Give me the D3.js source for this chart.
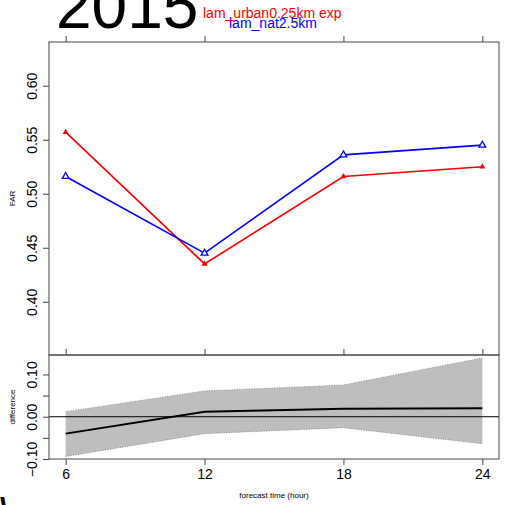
<!DOCTYPE html>
<html>
<head>
<meta charset="utf-8">
<script src="https://cdn.jsdelivr.net/npm/d3@7"></script>
<style>
  body { margin: 0; background: #fff; }
  svg { display: block; font-family: "Liberation Sans", Arial, sans-serif; }
</style>
</head>
<body>
<script>
// dati
var leadTimes = [6, 12, 18, 24];
var farUrban = [0.557, 0.435, 0.516, 0.525];   // lam_urban0.25km exp
var farNat = [0.516, 0.445, 0.536, 0.545];     // lam_nat2.5km
var diffMean = [-0.040, 0.012, 0.019, 0.020];
var diffUpper = [0.012, 0.061, 0.075, 0.139];
var diffLower = [-0.094, -0.040, -0.026, -0.064];
var farTicks = [0.40, 0.45, 0.50, 0.55, 0.60];
var diffTicks = [-0.10, -0.05, 0.00, 0.05, 0.10];
var diffLabelTicks = [-0.10, 0.00, 0.10];

var W = 510, H = 505;
var left = 49, right = 499;
var top1 = 42, bot1 = 355, top2 = 355, bot2 = 459;

var svg = d3.select("body").append("svg").attr("width", W).attr("height", H);

var x = d3.scaleLinear().domain([5.28, 24.72]).range([left, right]);
var y = d3.scaleLinear().domain([0.3507, 0.6405]).range([bot1, top1]);
var yd = d3.scaleLinear().domain([-0.1, 0.146]).range([bot2, top2]);

var axisCol = "#444";

// fascia differenza
svg.append("path")
  .datum(leadTimes)
  .attr("d", d3.area().x(function(d){ return x(d); })
    .y0(function(d, i){ return yd(diffLower[i]); })
    .y1(function(d, i){ return yd(diffUpper[i]); }))
  .attr("fill", "#bebebe");
[diffUpper, diffLower].forEach(function(arr){
  svg.append("path")
    .datum(leadTimes)
    .attr("d", d3.line().x(function(d){ return x(d); }).y(function(d, i){ return yd(arr[i]); }))
    .attr("fill", "none").attr("stroke", "#777").attr("stroke-width", 0.8)
    .attr("stroke-dasharray", "1,1.5");
});
svg.append("line")
  .attr("x1", left).attr("x2", right).attr("y1", yd(0)).attr("y2", yd(0))
  .attr("stroke", "#000").attr("stroke-width", 1);
svg.append("path")
  .datum(leadTimes)
  .attr("d", d3.line().x(function(d){ return x(d); }).y(function(d, i){ return yd(diffMean[i]); }))
  .attr("fill", "none").attr("stroke", "#000").attr("stroke-width", 2);

// linee FAR
function drawSeries(vals, col) {
  svg.append("path")
    .datum(leadTimes)
    .attr("d", d3.line().x(function(d){ return x(d); }).y(function(d, i){ return y(vals[i]); }))
    .attr("fill", "none").attr("stroke", col).attr("stroke-width", 1.6);
}
drawSeries(farUrban, "#ff0000");
drawSeries(farNat, "#0000ff");

var tri = d3.symbol().type(d3.symbolTriangle);
svg.selectAll(".pu").data(leadTimes).enter().append("path")
  .attr("d", tri.size(16))
  .attr("transform", function(d, i){ return "translate(" + x(d) + "," + y(farUrban[i]) + ")"; })
  .attr("fill", "#ff0000");
svg.selectAll(".pn").data(leadTimes).enter().append("path")
  .attr("d", tri.size(20))
  .attr("transform", function(d, i){ return "translate(" + x(d) + "," + y(farNat[i]) + ")"; })
  .attr("fill", "#fff").attr("stroke", "#0000ff").attr("stroke-width", 1.3);

// riquadri
svg.append("rect").attr("x", left).attr("y", top1).attr("width", right - left).attr("height", bot1 - top1)
  .attr("fill", "none").attr("stroke", axisCol).attr("stroke-width", 1);
svg.append("rect").attr("x", left).attr("y", top2).attr("width", right - left).attr("height", bot2 - top2)
  .attr("fill", "none").attr("stroke", axisCol).attr("stroke-width", 1);

// assi
function styleAxis(g) {
  g.select(".domain").remove();
  g.selectAll(".tick line").attr("stroke", axisCol);
  g.selectAll(".tick text").attr("fill", "#000").style("font-size", "14px")
    .style("font-family", "'Liberation Sans', Arial, sans-serif");
}
svg.append("g").attr("transform", "translate(0," + top1 + ")")
  .call(d3.axisTop(x).tickValues(leadTimes).tickSize(6).tickFormat(""))
  .call(styleAxis);
svg.append("g").attr("transform", "translate(0," + top2 + ")")
  .call(d3.axisTop(x).tickValues(leadTimes).tickSize(6).tickFormat(""))
  .call(styleAxis);
svg.append("g").attr("transform", "translate(0," + bot2 + ")")
  .call(d3.axisBottom(x).tickValues(leadTimes).tickSize(6).tickPadding(4))
  .call(styleAxis);

var gy = svg.append("g").attr("transform", "translate(" + left + ",0)")
  .call(d3.axisLeft(y).tickValues(farTicks).tickSize(6).tickFormat(d3.format(".2f")))
  .call(styleAxis);
gy.selectAll(".tick text")
  .attr("transform", "rotate(-90)").attr("x", 0).attr("y", -12)
  .attr("dy", 0).attr("text-anchor", "middle");

var gyd = svg.append("g").attr("transform", "translate(" + left + ",0)")
  .call(d3.axisLeft(yd).tickValues(diffTicks).tickSize(6)
    .tickFormat(function(d){ return diffLabelTicks.indexOf(d) >= 0 ? d3.format(".2f")(d).replace("-", "\u2212") : ""; }))
  .call(styleAxis);
gyd.selectAll(".tick text")
  .attr("transform", "rotate(-90)").attr("x", 0).attr("y", -12)
  .attr("dy", 0).attr("text-anchor", "middle");

// etichette
svg.append("text").attr("transform", "translate(15," + ((top1 + bot1) / 2) + ") rotate(-90)")
  .attr("text-anchor", "middle").style("font-size", "8px").text("FAR");
svg.append("text").attr("transform", "translate(15," + ((top2 + bot2) / 2) + ") rotate(-90)")
  .attr("text-anchor", "middle").style("font-size", "8px").text("difference");
svg.append("text").attr("x", (left + right) / 2).attr("y", 498)
  .attr("text-anchor", "middle").style("font-size", "8px").text("forecast time (hour)");

// titolo e legenda
svg.append("text").attr("x", 56).attr("y", 28).style("font-size", "64px").text("2015");
svg.append("text").attr("x", 203).attr("y", 18).attr("fill", "#ff0000")
  .style("font-size", "14px").text("lam_urban0.25km exp");
svg.append("text").attr("x", 229).attr("y", 28).attr("fill", "#0000ff")
  .style("font-size", "14px").text("lam_nat2.5km");
svg.append("text").attr("x", 0).attr("y", 520).style("font-size", "32px").style("font-weight", "bold").text("\\");
</script>
</body>
</html>
